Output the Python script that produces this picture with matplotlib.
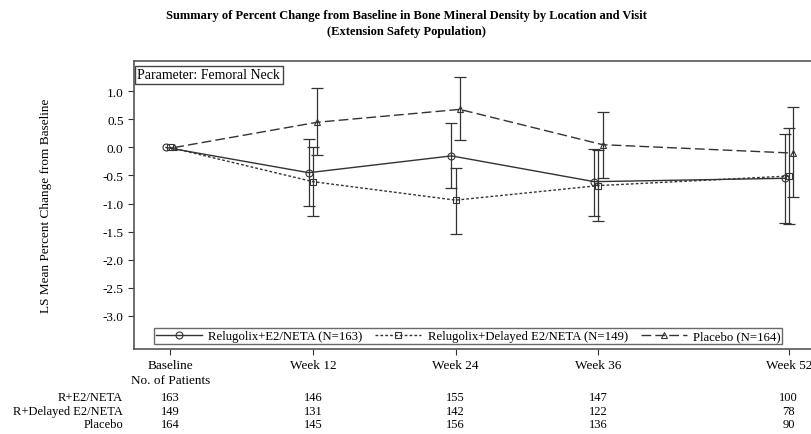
import numpy as np
import matplotlib
matplotlib.use("Agg")
import matplotlib.pyplot as plt

plt.rcParams['font.family'] = ['Liberation Serif', 'DejaVu Serif']

# visits (weeks) and labels
visits = ["Baseline", "Week 12", "Week 24", "Week 36", "Week 52"]
weeks = [0, 12, 24, 36, 52]

# LS mean % change and CI limits
r_mean = [0.0, -0.45, -0.15, -0.61, -0.55]
r_lo = [0.0, -1.05, -0.73, -1.22, -1.34]
r_hi = [0.0, 0.16, 0.43, -0.03, 0.24]

d_mean = [0.0, -0.61, -0.94, -0.68, -0.51]
d_lo = [0.0, -1.23, -1.55, -1.31, -1.37]
d_hi = [0.0, 0.00, -0.36, -0.05, 0.35]

p_mean = [0.0, 0.45, 0.68, 0.05, -0.10]
p_lo = [0.0, -0.13, 0.14, -0.55, -0.88]
p_hi = [0.0, 1.07, 1.26, 0.64, 0.72]

series_names = ["Relugolix+E2/NETA (N=163)", "Relugolix+Delayed E2/NETA (N=149)", "Placebo (N=164)"]
row_labels = ["R+E2/NETA", "R+Delayed E2/NETA", "Placebo"]
n_r = [163, 146, 155, 147, 100]
n_d = [149, 131, 142, 122, 78]
n_p = [164, 145, 156, 136, 90]

W, H = 812, 435
fig = plt.figure(figsize=(W / 100, H / 100), dpi=100)
ax = fig.add_axes([0.165, 0.195, 0.84, 0.662])

col = "#333333"
wk = np.array(weeks, dtype=float)
groups = [
    (r_mean, r_lo, r_hi, "o", "-", -0.35),
    (d_mean, d_lo, d_hi, "s", (0, (2, 1.5)), 0.0),
    (p_mean, p_lo, p_hi, "^", (0, (7, 3)), 0.35),
]
handles = []
for (m, lo, hi, mk, ls, off) in groups:
    m = np.array(m); lo = np.array(lo); hi = np.array(hi)
    x = wk + off
    yerr = np.vstack([m - lo, hi - m])
    ax.errorbar(x[1:], m[1:], yerr=yerr[:, 1:], fmt="none", ecolor=col,
                elinewidth=0.9, capsize=4, capthick=0.9)
    h, = ax.plot(x, m, linestyle=ls, color=col, lw=1.0, marker=mk,
                 markersize=5, markerfacecolor="none", markeredgecolor=col,
                 markeredgewidth=0.8)
    handles.append(h)

ax.set_xlim(-3.04, 54.3)
ax.set_ylim(-3.6, 1.54)
yt = np.arange(-3.0, 1.01, 0.5)
ax.set_yticks(yt)
ax.set_yticklabels([f"{v:.1f}" for v in yt], fontsize=9.5)
ax.set_xticks(weeks)
ax.set_xticklabels(visits, fontsize=9.5)
ax.tick_params(axis="x", length=4, pad=3, color=col)
ax.tick_params(axis="y", length=4, color=col)
ax.spines["right"].set_visible(False)
for s in ["left", "bottom", "top"]:
    ax.spines[s].set_color("#555555")
    ax.spines[s].set_linewidth(1.2)
ax.set_ylabel("LS Mean Percent Change from Baseline", fontsize=9.5, labelpad=36)

ax.text(0.005, 0.975, "Parameter: Femoral Neck", transform=ax.transAxes,
        fontsize=10, va="top", ha="left",
        bbox=dict(boxstyle="square,pad=0.2", fc="white", ec="#444444", lw=1.0))

leg = ax.legend(handles, series_names, loc="lower center", ncol=3, fontsize=9.2,
                frameon=True, fancybox=False, edgecolor="#444444",
                handlelength=3.6, columnspacing=1.0, borderpad=0.15,
                bbox_to_anchor=(0.49, -0.005), handletextpad=0.5)
leg.get_frame().set_linewidth(1.0)

fig.text(0.5, 1 - 16 / H, "Summary of Percent Change from Baseline in Bone Mineral Density by Location and Visit",
         ha="center", va="center", fontsize=9, fontweight="bold")
fig.text(0.5, 1 - 32 / H, "(Extension Safety Population)", ha="center", va="center",
         fontsize=9, fontweight="bold")

# patient count table below the axis
blend = matplotlib.transforms.blended_transform_factory(ax.transData, fig.transFigure)
ax.text(0, 1 - 381 / H, "No. of Patients", transform=blend,
        ha="center", va="center", fontsize=9.5)
row_px = [398, 412, 425]
for lab, counts, yp in zip(row_labels, [n_r, n_d, n_p], row_px):
    fig.text(123 / W, 1 - yp / H, lab, ha="right", va="center", fontsize=9)
    for w, c in zip(weeks, counts):
        ax.text(w, 1 - yp / H, str(c), transform=blend,
                ha="center", va="center", fontsize=9)

fig.savefig("out.png", dpi=100)
